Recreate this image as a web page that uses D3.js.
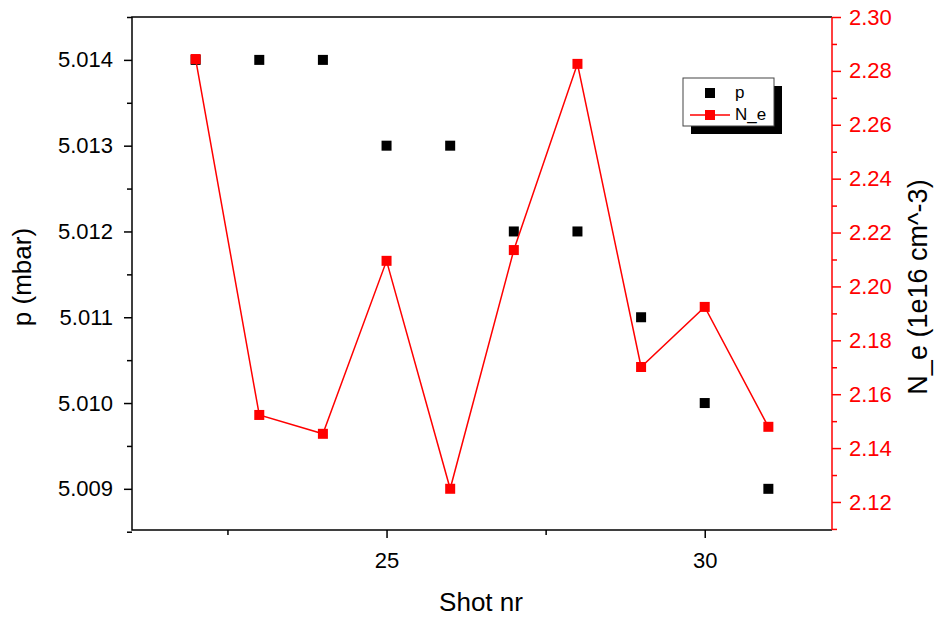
<!DOCTYPE html>
<html>
<head>
<meta charset="utf-8">
<script src="https://cdn.jsdelivr.net/npm/d3@7"></script>
<style>
    body { margin: 0; background: #fff; }
    text { font-family: 'Liberation Sans', Arial, sans-serif; }
</style>
</head>
<body>
<svg width="934" height="617"></svg>
<script>
// data
const shots = [22, 23, 24, 25, 26, 27, 28, 29, 30, 31]
const pressure = [5.014, 5.014, 5.014, 5.013, 5.013, 5.012, 5.012, 5.011, 5.010, 5.009]
const density = [2.2844, 2.1523, 2.1453, 2.2095, 2.1249, 2.2135, 2.2826, 2.1701, 2.1924, 2.1479]

const xMajor = [25, 30]
const xMinor = [22.5, 27.5]
const pMajor = [5.009, 5.010, 5.011, 5.012, 5.013, 5.014]
const pMinor = [5.0085, 5.0095, 5.0105, 5.0115, 5.0125, 5.0135, 5.0145]
const nMajor = [2.12, 2.14, 2.16, 2.18, 2.20, 2.22, 2.24, 2.26, 2.28, 2.30]
const nMinor = [2.11, 2.13, 2.15, 2.17, 2.19, 2.21, 2.23, 2.25, 2.27, 2.29]

const svg = d3.select('svg')

const plotLeft = 132, plotRight = 832, plotTop = 17, plotBottom = 530
const red = '#ff0000'

const x = d3.scaleLinear().domain([21, 32]).range([plotLeft, plotRight])
const yP = d3.scaleLinear().domain([5.00852, 5.0145]).range([plotBottom, plotTop])
const yN = d3.scaleLinear().domain([2.1096, 2.30]).range([plotBottom, plotTop])

// axes
const xAxisG = svg.append('g')
    .attr('transform', `translate(0, ${ plotBottom })`)
xAxisG.append('g')
    .call(d3.axisBottom(x).tickValues(xMajor).tickSize(8).tickPadding(14).tickFormat(d3.format('d')))
xAxisG.append('g')
    .call(d3.axisBottom(x).tickValues(xMinor).tickSize(5).tickFormat(''))

const pAxisG = svg.append('g')
    .attr('transform', `translate(${ plotLeft }, 0)`)
pAxisG.append('g')
    .call(d3.axisLeft(yP).tickValues(pMajor).tickSize(8).tickPadding(11).tickFormat(d3.format('.3f')))
pAxisG.append('g')
    .call(d3.axisLeft(yP).tickValues(pMinor).tickSize(5).tickFormat(''))

const nAxisG = svg.append('g')
    .attr('transform', `translate(${ plotRight }, 0)`)
nAxisG.append('g')
    .call(d3.axisRight(yN).tickValues(nMajor).tickSize(9).tickPadding(8).tickFormat(d3.format('.2f')))
nAxisG.append('g')
    .call(d3.axisRight(yN).tickValues(nMinor).tickSize(5).tickFormat(''))

svg.selectAll('.domain').remove()
svg.selectAll('.tick line').attr('stroke-width', 1.5)
svg.selectAll('.tick text').attr('font-size', 22).attr('font-family', 'Liberation Sans, Arial, sans-serif')
nAxisG.selectAll('line').attr('stroke', red)
nAxisG.selectAll('text').attr('fill', red)

// frame
svg.append('path')
    .attr('d', `M${ plotRight },${ plotTop }H${ plotLeft }V${ plotBottom }H${ plotRight }`)
    .attr('fill', 'none')
    .attr('stroke', '#000')
    .attr('stroke-width', 1.5)
svg.append('line')
    .attr('x1', plotRight).attr('x2', plotRight)
    .attr('y1', plotTop).attr('y2', plotBottom)
    .attr('stroke', red)
    .attr('stroke-width', 1.5)

// axis titles
svg.append('text')
    .attr('x', (plotLeft + plotRight) / 2 - 1)
    .attr('y', 611)
    .attr('text-anchor', 'middle')
    .attr('font-size', 26)
    .text('Shot nr')

svg.append('text')
    .attr('transform', `translate(31, 277) rotate(-90)`)
    .attr('text-anchor', 'middle')
    .attr('font-size', 26)
    .text('p (mbar)')

svg.append('text')
    .attr('transform', `translate(927, 287) rotate(-90)`)
    .attr('text-anchor', 'middle')
    .attr('font-size', 27)
    .text('N_e (1e16 cm^-3)')

// p points
const size = 10
svg.append('g')
    .selectAll('rect')
    .data(shots)
    .join('rect')
        .attr('x', (d) => x(d) - size / 2)
        .attr('y', (d, i) => yP(pressure[i]) - size / 2)
        .attr('width', size)
        .attr('height', size)
        .attr('fill', '#000')

// N_e line + points
const line = d3.line()
    .x((d) => x(d))
    .y((d, i) => yN(density[i]))

svg.append('path')
    .attr('d', line(shots))
    .attr('fill', 'none')
    .attr('stroke', red)
    .attr('stroke-width', 1.5)

svg.append('g')
    .selectAll('rect')
    .data(shots)
    .join('rect')
        .attr('x', (d) => x(d) - size / 2)
        .attr('y', (d, i) => yN(density[i]) - size / 2)
        .attr('width', size)
        .attr('height', size)
        .attr('fill', red)

// legend
const legendG = svg.append('g')
    .attr('transform', `translate(683, 78)`)

legendG.append('rect')
    .attr('x', 8).attr('y', 8)
    .attr('width', 91).attr('height', 48)
    .attr('fill', '#000')

legendG.append('rect')
    .attr('width', 91).attr('height', 48)
    .attr('fill', '#fff')
    .attr('stroke', '#444')
    .attr('stroke-width', 1)

legendG.append('rect')
    .attr('x', 27 - size / 2).attr('y', 15 - size / 2)
    .attr('width', size).attr('height', size)
    .attr('fill', '#000')

legendG.append('line')
    .attr('x1', 7).attr('x2', 47)
    .attr('y1', 37).attr('y2', 37)
    .attr('stroke', red)
    .attr('stroke-width', 1.5)

legendG.append('rect')
    .attr('x', 27 - size / 2).attr('y', 37 - size / 2)
    .attr('width', size).attr('height', size)
    .attr('fill', red)

legendG.append('text')
    .attr('x', 52).attr('y', 20)
    .attr('font-size', 17)
    .text('p')

legendG.append('text')
    .attr('x', 52).attr('y', 42)
    .attr('font-size', 17)
    .text('N_e')
</script>
</body>
</html>
